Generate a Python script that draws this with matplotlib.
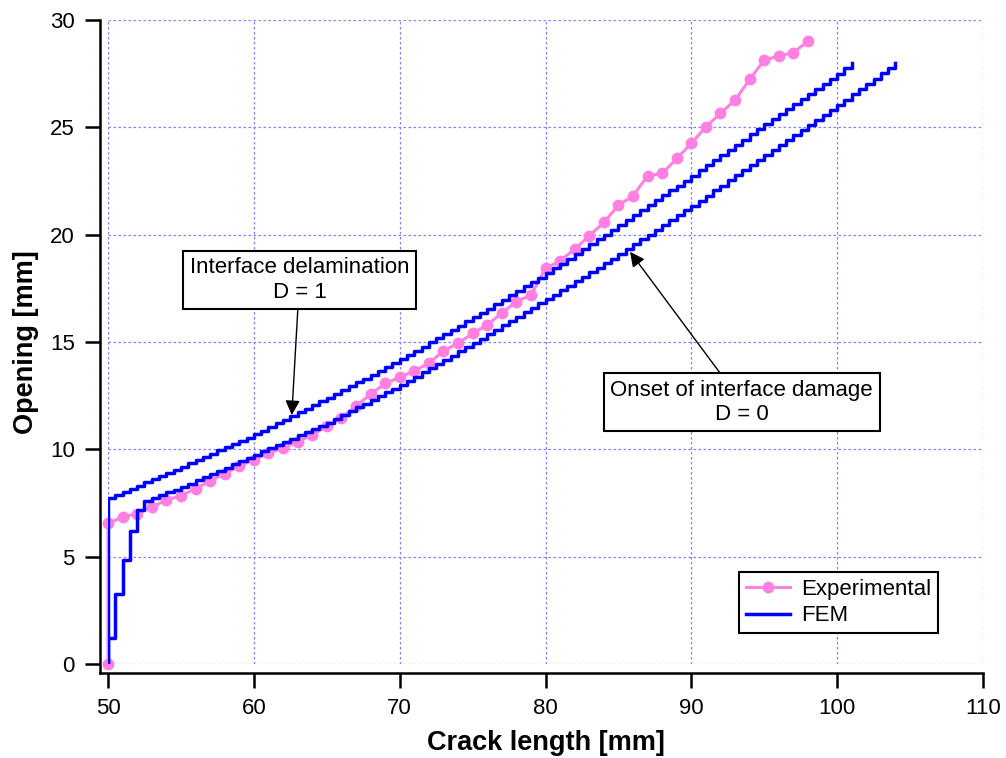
import matplotlib
matplotlib.use('Agg')
import matplotlib.pyplot as plt
from matplotlib.lines import Line2D

plt.rcParams['font.family'] = ['Liberation Sans', 'DejaVu Sans']

# Measured opening vs crack length (one point per mm)
exp_crack = [50, 50, 51, 52, 53, 54, 55, 56, 57, 58, 59, 60, 61, 62, 63, 64,
             65, 66, 67, 68, 69, 70, 71, 72, 73, 74, 75, 76, 77, 78, 79, 80,
             81, 82, 83, 84, 85, 86, 87, 88, 89, 90, 91, 92, 93, 94, 95, 96,
             97, 98]
exp_opening = [0.0, 6.55, 6.85, 7.00, 7.30, 7.64, 7.84, 8.17, 8.52, 8.87, 9.22,
               9.52, 9.81, 10.07, 10.35, 10.67, 11.07, 11.48, 12.02, 12.56,
               13.07, 13.35, 13.66, 14.00, 14.59, 14.94, 15.40, 15.79, 16.35,
               16.88, 17.19, 18.43, 18.78, 19.33, 19.94, 20.57, 21.37, 21.81,
               22.74, 22.85, 23.55, 24.25, 25.03, 25.65, 26.27, 27.23, 28.13,
               28.33, 28.48, 29.02]

# FEM element boundaries along the interface (0.5 mm elements)
fem_crack = [50.0, 50.5, 51.0, 51.5, 52.0, 52.5, 53.0, 53.5, 54.0, 54.5,
             55.0, 55.5, 56.0, 56.5, 57.0, 57.5, 58.0, 58.5, 59.0, 59.5,
             60.0, 60.5, 61.0, 61.5, 62.0, 62.5, 63.0, 63.5, 64.0, 64.5,
             65.0, 65.5, 66.0, 66.5, 67.0, 67.5, 68.0, 68.5, 69.0, 69.5,
             70.0, 70.5, 71.0, 71.5, 72.0, 72.5, 73.0, 73.5, 74.0, 74.5,
             75.0, 75.5, 76.0, 76.5, 77.0, 77.5, 78.0, 78.5, 79.0, 79.5,
             80.0, 80.5, 81.0, 81.5, 82.0, 82.5, 83.0, 83.5, 84.0, 84.5,
             85.0, 85.5, 86.0, 86.5, 87.0, 87.5, 88.0, 88.5, 89.0, 89.5,
             90.0, 90.5, 91.0, 91.5, 92.0, 92.5, 93.0, 93.5, 94.0, 94.5,
             95.0, 95.5, 96.0, 96.5, 97.0, 97.5, 98.0, 98.5, 99.0, 99.5,
             100.0, 100.5, 101.0, 101.5, 102.0, 102.5, 103.0, 103.5, 104.0]

# Opening when the interface is fully delaminated (D = 1)
fem_delam = [7.72, 7.87, 8.01, 8.16, 8.31, 8.46, 8.61, 8.75, 8.90, 9.05,
             9.20, 9.35, 9.50, 9.65, 9.80, 9.95, 10.10, 10.25, 10.40, 10.55,
             10.70, 10.87, 11.04, 11.21, 11.38, 11.55, 11.72, 11.89, 12.06, 12.23,
             12.40, 12.58, 12.76, 12.94, 13.12, 13.30, 13.48, 13.66, 13.84, 14.02,
             14.20, 14.40, 14.59, 14.79, 14.98, 15.18, 15.37, 15.57, 15.76, 15.96,
             16.15, 16.36, 16.56, 16.77, 16.97, 17.18, 17.38, 17.59, 17.79, 18.00,
             18.20, 18.43, 18.65, 18.88, 19.10, 19.33, 19.55, 19.78, 20.00, 20.23,
             20.45, 20.68, 20.91, 21.14, 21.37, 21.60, 21.83, 22.06, 22.29, 22.52,
             22.75, 22.99, 23.23, 23.47, 23.71, 23.95, 24.19, 24.43, 24.67, 24.91,
             25.15, 25.39, 25.62, 25.86, 26.09, 26.33, 26.56, 26.80, 27.03, 27.27,
             27.50, 27.75, 28.00]

# Opening at onset of interface damage (D = 0)
fem_onset = [1.20, 3.26, 4.84, 6.21, 7.17, 7.61, 7.74, 7.87, 7.99, 8.12,
             8.25, 8.40, 8.55, 8.70, 8.85, 9.00, 9.15, 9.30, 9.45, 9.60,
             9.75, 9.90, 10.05, 10.20, 10.35, 10.50, 10.65, 10.80, 10.95, 11.10,
             11.25, 11.43, 11.60, 11.78, 11.95, 12.13, 12.30, 12.48, 12.65, 12.83,
             13.00, 13.20, 13.39, 13.59, 13.78, 13.98, 14.17, 14.37, 14.56, 14.76,
             14.95, 15.16, 15.36, 15.57, 15.77, 15.98, 16.18, 16.39, 16.59, 16.80,
             17.00, 17.21, 17.42, 17.63, 17.84, 18.05, 18.26, 18.47, 18.68, 18.89,
             19.10, 19.33, 19.55, 19.78, 20.00, 20.23, 20.45, 20.68, 20.90, 21.13,
             21.35, 21.59, 21.82, 22.06, 22.29, 22.53, 22.76, 23.00, 23.23, 23.47,
             23.70, 23.94, 24.17, 24.41, 24.64, 24.88, 25.11, 25.35, 25.58, 25.82,
             26.05, 26.29, 26.54, 26.78, 27.03, 27.27, 27.51, 27.76, 28.00]

PINK = '#ff80e0'
BLUE = '#0000ff'
GRID = '#8080ff'

fig = plt.figure(figsize=(10.06, 7.58), dpi=100)
ax = fig.add_axes([0.1074, 0.124, 0.8697, 0.8496])

ax.plot(exp_crack, exp_opening, color=PINK, lw=2.2, marker='o', ms=7.5,
        zorder=3, clip_on=False)

n_delam = len(fem_delam)
ax.plot([fem_crack[0]] + fem_crack[:n_delam], [0.0] + fem_delam,
        drawstyle='steps-post', color=BLUE, lw=2.5, zorder=4)
ax.plot([fem_crack[0]] + fem_crack, [0.0] + fem_onset,
        drawstyle='steps-post', color=BLUE, lw=2.5, zorder=4)

ax.set_xlim(50, 110)
ax.set_ylim(0, 30)
ax.set_xticks([50, 60, 70, 80, 90, 100, 110])
ax.set_yticks([0, 5, 10, 15, 20, 25, 30])

ax.grid(True, color=GRID, linestyle=(0, (2, 2)), linewidth=0.9)
ax.set_axisbelow(True)

for side in ('top', 'right'):
    ax.spines[side].set_visible(False)
ax.spines['left'].set_position(('outward', 6))
ax.spines['bottom'].set_position(('outward', 6.5))
ax.spines['left'].set_bounds(-0.42, 30)
ax.spines['bottom'].set_bounds(49.45, 110)
for side in ('left', 'bottom'):
    ax.spines[side].set_linewidth(1.8)

ax.tick_params(axis='both', direction='out', length=11, width=1.8,
               labelsize=16, pad=7)

ax.set_xlabel('Crack length [mm]', fontsize=19.5, fontweight='bold',
              labelpad=8)
ax.set_ylabel('Opening [mm]', fontsize=19.5, fontweight='bold', labelpad=8)

box = dict(boxstyle='square,pad=0.3', fc='white', ec='black', lw=1.5)
arrow = dict(arrowstyle='-|>', color='black', lw=1, mutation_scale=22,
             shrinkA=0, shrinkB=0)
ax.annotate('Interface delamination\nD = 1', xy=(62.6, 11.6),
            xytext=(63.13, 17.89), ha='center', va='center', ma='center',
            fontsize=16, bbox=box, arrowprops=arrow, zorder=6)
ax.annotate('Onset of interface damage\nD = 0', xy=(85.8, 19.2),
            xytext=(93.45, 12.2), ha='center', va='center', ma='center',
            fontsize=16, bbox=box, arrowprops=arrow, zorder=6)

handles = [Line2D([], [], color=PINK, lw=2.2, marker='o', ms=7.5),
           Line2D([], [], color=BLUE, lw=2.5)]
leg = ax.legend(handles, ['Experimental', 'FEM'], loc='lower right',
                bbox_to_anchor=(0.949, 0.048), borderaxespad=0,
                fontsize=16, fancybox=False, framealpha=1, edgecolor='black',
                labelspacing=0.25, handlelength=2.0, handletextpad=0.5,
                borderpad=0.3)
leg.get_frame().set_linewidth(1.5)
leg.set_zorder(7)

fig.savefig('out.png', dpi=100)
plt.close(fig)
